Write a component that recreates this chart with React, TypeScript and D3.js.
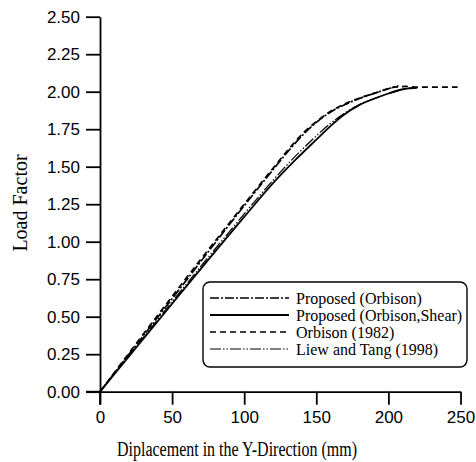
import React, { useRef, useEffect } from 'react'
import * as d3 from 'd3'

// tick values
const xTicks = [0, 50, 100, 150, 200, 250]
const yTicks = [0, 0.25, 0.5, 0.75, 1.0, 1.25, 1.5, 1.75, 2.0, 2.25, 2.5]

// series (displacement mm / load factor)
const propOrbisonDisp = [0, 50, 100, 120, 132, 142, 150, 160, 170, 180, 192, 200, 207]
const propOrbisonLoad = [0, 0.62, 1.24, 1.48, 1.62, 1.725, 1.795, 1.865, 1.915, 1.955, 1.995, 2.02, 2.04]

const propShearDisp = [0, 52, 100, 120, 136, 150, 160, 168, 180, 190, 200, 211, 220]
const propShearLoad = [0, 0.61, 1.165, 1.39, 1.55, 1.68, 1.772, 1.838, 1.912, 1.953, 1.988, 2.018, 2.025]

const orbison1982Disp = [0, 48, 100, 120, 132, 142, 150, 160, 170, 180, 192, 204, 212, 220, 248]
const orbison1982Load = [0, 0.61, 1.25, 1.49, 1.63, 1.735, 1.8, 1.87, 1.92, 1.958, 1.995, 2.03, 2.035, 2.03, 2.03]

const liewDisp = [0, 50, 100, 120, 136, 150, 160, 170, 180, 195, 210, 218]
const liewLoad = [0, 0.6, 1.185, 1.41, 1.575, 1.705, 1.79, 1.86, 1.915, 1.97, 2.015, 2.03]

const seriesNames = ['Proposed (Orbison)', 'Proposed (Orbison,Shear)', 'Orbison (1982)', 'Liew and Tang (1998)']

const W = 476
const H = 462

const App = () => {
  const svgRef = useRef(null)

  useEffect(() => {
    const svg = d3.select(svgRef.current)
    svg.selectAll('*').remove()

    const x = d3.scaleLinear().domain([0, 250]).range([100, 460.5])
    const y = d3.scaleLinear().domain([0, 2.5]).range([391.7, 16.7])

    const series = [
      { name: seriesNames[0], d: propOrbisonDisp, l: propOrbisonLoad, dash: '9,2,2,2', w: 1.7 },
      { name: seriesNames[1], d: propShearDisp, l: propShearLoad, dash: null, w: 1.8 },
      { name: seriesNames[2], d: orbison1982Disp, l: orbison1982Load, dash: '6,4', w: 1.7 },
      { name: seriesNames[3], d: liewDisp, l: liewLoad, dash: '11,2,1.5,2,1.5,2', w: 1.2 },
    ]

    const line = d3.line()
      .x(p => x(p[0]))
      .y(p => y(p[1]))
      .curve(d3.curveMonotoneX)

    // axes
    const xAxis = svg.append('g')
      .attr('transform', `translate(0,${y(0)})`)
      .call(d3.axisBottom(x).tickValues(xTicks).tickSize(13).tickSizeOuter(0).tickPadding(6))
    const yAxis = svg.append('g')
      .attr('transform', `translate(${x(0)},0)`)
      .call(d3.axisLeft(y).tickValues(yTicks).tickSize(14).tickSizeOuter(0).tickPadding(6)
        .tickFormat(d3.format('.2f')))

    for (const ax of [xAxis, yAxis]) {
      ax.select('.domain').attr('stroke', '#000').attr('stroke-width', 1.8)
      ax.selectAll('.tick line').attr('stroke', '#000').attr('stroke-width', 1.8)
      ax.selectAll('.tick text')
        .attr('fill', '#000')
        .attr('font-family', '"Liberation Sans", Arial, sans-serif')
        .attr('font-size', 17)
    }
    // extend the axes to meet the crossing ticks
    svg.append('line')
      .attr('x1', x(0)).attr('x2', x(0)).attr('y1', y(0)).attr('y2', y(0) + 13)
      .attr('stroke', '#000').attr('stroke-width', 1.8)
    svg.append('line')
      .attr('x1', x(0) - 14).attr('x2', x(0)).attr('y1', y(0)).attr('y2', y(0))
      .attr('stroke', '#000').attr('stroke-width', 1.8)

    // curves
    const curves = svg.append('g')
    series.forEach(s => {
      curves.append('path')
        .datum(s.d.map((v, i) => [v, s.l[i]]))
        .attr('d', line)
        .attr('fill', 'none')
        .attr('stroke', '#000')
        .attr('stroke-width', s.w)
        .attr('stroke-dasharray', s.dash)
    })

    // axis titles
    svg.append('text')
      .attr('x', 237).attr('y', 456)
      .attr('text-anchor', 'middle')
      .attr('font-family', '"Liberation Serif", "Times New Roman", serif')
      .attr('font-size', 20)
      .attr('textLength', 240)
      .attr('lengthAdjust', 'spacingAndGlyphs')
      .text('Diplacement in the Y-Direction (mm)')
    svg.append('text')
      .attr('transform', 'translate(27,203) rotate(-90)')
      .attr('text-anchor', 'middle')
      .attr('font-family', '"Liberation Serif", "Times New Roman", serif')
      .attr('font-size', 20)
      .text('Load Factor')

    // legend
    const lg = svg.append('g')
    lg.append('rect')
      .attr('x', 203).attr('y', 282).attr('width', 264).attr('height', 85)
      .attr('rx', 7)
      .attr('fill', '#fff').attr('stroke', '#000').attr('stroke-width', 1.4)
    series.forEach((s, i) => {
      const yy = 298 + i * 17
      lg.append('line')
        .attr('x1', 210).attr('x2', 289).attr('y1', yy).attr('y2', yy)
        .attr('stroke', '#000').attr('stroke-width', s.w)
        .attr('stroke-dasharray', s.dash)
      lg.append('text')
        .attr('x', 296).attr('y', yy).attr('dy', '0.35em')
        .attr('font-family', '"Liberation Serif", "Times New Roman", serif')
        .attr('font-size', 16)
        .text(s.name)
    })
  }, [])

  return (
    <svg ref={svgRef} width={W} height={H} style={{ position: 'absolute', left: 0, top: 0, background: '#fff' }} />
  )
}

export default App
